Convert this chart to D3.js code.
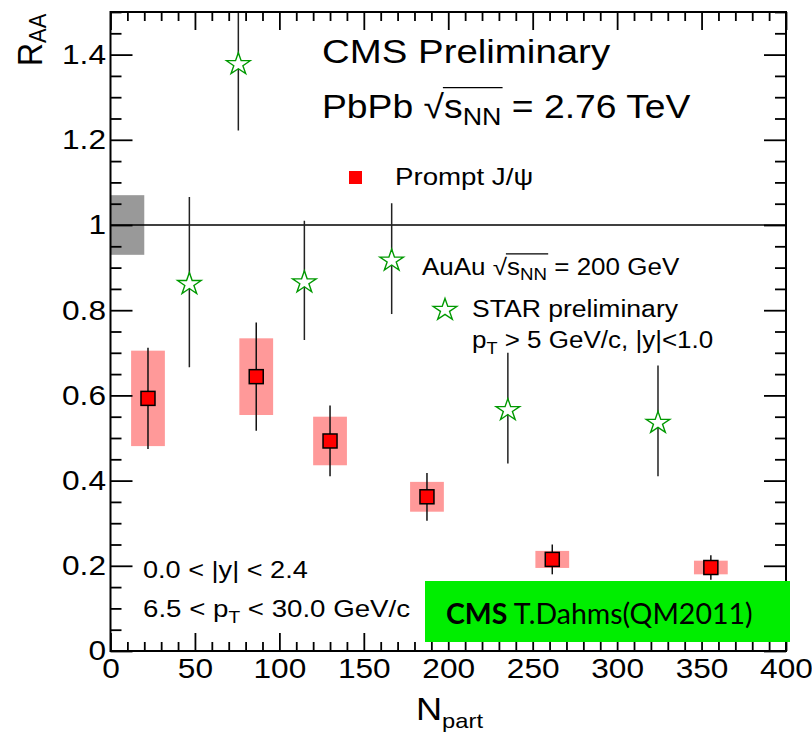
<!DOCTYPE html>
<html>
<head>
<meta charset="utf-8">
<script src="https://cdn.jsdelivr.net/npm/d3@7"></script>
<style>
  body { margin: 0; background: #fff; }
  svg text { font-family: "Liberation Sans", Arial, sans-serif; fill: #000; }
</style>
</head>
<body>
<div id="chart"></div>
<script>
// CMS prompt J/psi R_AA vs Npart
var cmsNpart = [22.2, 86.3, 130, 187.4, 261.6, 355.5];
var cmsRaa   = [0.593, 0.644, 0.493, 0.362, 0.215, 0.196];
var cmsStat  = [0.119, 0.127, 0.083, 0.056, 0.035, 0.029];
var cmsSyst  = [0.112, 0.090, 0.057, 0.035, 0.020, 0.016];

// STAR high-pT J/psi
var starNpart = [46.7, 75.7, 114.8, 166.5, 235.3, 324.2];
var starRaa   = [0.866, 1.382, 0.870, 0.921, 0.570, 0.540];
var starErr   = [0.200, 0.160, 0.140, 0.130, 0.130, 0.130];

// global uncertainty box at R_AA = 1
var globalBox = {x0: 0, x1: 20, lo: 0.93, hi: 1.07};

var xMajor = [0, 50, 100, 150, 200, 250, 300, 350, 400];
var xLabels = ["0", "50", "100", "150", "200", "250", "300", "350", "400"];
var yMajor = [0, 0.2, 0.4, 0.6, 0.8, 1.0, 1.2, 1.4];
var yLabels = ["0", "0.2", "0.4", "0.6", "0.8", "1", "1.2", "1.4"];

var W = 812, H = 736;
var SX = 1.13; // text looks a bit stretched sideways in the original
var margin = {top: 12, right: 26, bottom: 85, left: 110.5},
    width = W - margin.left - margin.right,
    height = H - margin.top - margin.bottom;

var x = d3.scaleLinear().domain([0, 400]).range([0, width]);
var y = d3.scaleLinear().domain([0, 1.5]).range([height, 0]);

var svg = d3.select("#chart").append("svg")
    .attr("width", W)
    .attr("height", H);

var g = svg.append("g")
    .attr("transform", "translate(" + margin.left + "," + margin.top + ")");

g.append("clipPath").attr("id", "frameClip")
  .append("rect").attr("width", width).attr("height", height);

var plot = g.append("g").attr("clip-path", "url(#frameClip)");

// global box
plot.append("rect")
    .attr("x", x(globalBox.x0))
    .attr("width", x(globalBox.x1) - x(globalBox.x0))
    .attr("y", y(globalBox.hi))
    .attr("height", y(globalBox.lo) - y(globalBox.hi))
    .attr("fill", "#999999");

// line at 1
plot.append("line")
    .attr("x1", 0).attr("x2", width)
    .attr("y1", y(1)).attr("y2", y(1))
    .attr("stroke", "#000").attr("stroke-width", 1.5);

var cms = cmsNpart.map(function(n, i){
    return {n: n, r: cmsRaa[i], stat: cmsStat[i], syst: cmsSyst[i]};
});
var star = starNpart.map(function(n, i){
    return {n: n, r: starRaa[i], err: starErr[i]};
});

// systematic boxes (+-10 in Npart)
plot.append("g").selectAll("rect")
    .data(cms).enter().append("rect")
    .attr("x", function(d){ return x(d.n - 10); })
    .attr("width", function(d){ return x(d.n + 10) - x(d.n - 10); })
    .attr("y", function(d){ return y(d.r + d.syst); })
    .attr("height", function(d){ return y(d.r - d.syst) - y(d.r + d.syst); })
    .attr("fill", "#ff9999");

// star error bars
plot.append("g").selectAll("line")
    .data(star).enter().append("line")
    .attr("x1", function(d){ return x(d.n); })
    .attr("x2", function(d){ return x(d.n); })
    .attr("y1", function(d){ return y(d.r + d.err); })
    .attr("y2", function(d){ return y(d.r - d.err); })
    .attr("stroke", "#222").attr("stroke-width", 1.5);

// cms error bars
plot.append("g").selectAll("line")
    .data(cms).enter().append("line")
    .attr("x1", function(d){ return x(d.n); })
    .attr("x2", function(d){ return x(d.n); })
    .attr("y1", function(d){ return y(d.r + d.stat); })
    .attr("y2", function(d){ return y(d.r - d.stat); })
    .attr("stroke", "#111").attr("stroke-width", 1.5);

// cms squares
var sq = 14;
plot.append("g").selectAll("rect")
    .data(cms).enter().append("rect")
    .attr("x", function(d){ return x(d.n) - sq / 2; })
    .attr("y", function(d){ return y(d.r) - sq / 2; })
    .attr("width", sq).attr("height", sq)
    .attr("fill", "#ff0000")
    .attr("stroke", "#000").attr("stroke-width", 1.5);

// open stars
var starPath = d3.symbol(d3.symbolStar, 150)();
plot.append("g").selectAll("path")
    .data(star).enter().append("path")
    .attr("d", starPath)
    .attr("transform", function(d){ return "translate(" + x(d.n) + "," + (y(d.r) + 2) + ") scale(1.08,1)"; })
    .attr("fill", "#fff")
    .attr("stroke", "#009900").attr("stroke-width", 1.3);

// ---- axes (ROOT style, ticks inside on all four sides)
var xMinor = d3.range(0, 401, 10).filter(function(v){ return v % 50 !== 0; });
var yMinor = d3.range(0, 31).map(function(i){ return i * 0.05; })
    .filter(function(v){ return Math.abs(v / 0.2 - Math.round(v / 0.2)) > 1e-6; });

function styleAxis(sel){
    sel.select(".domain").remove();
    sel.selectAll(".tick line").attr("stroke", "#000").attr("stroke-width", 1.8);
    sel.selectAll(".tick text").style("font-size", "28px")
        .style("font-family", "'Liberation Sans', Arial, sans-serif").attr("fill", "#000")
        .attr("transform", "scale(" + SX + ",1)");
}

// bottom
g.append("g").attr("transform", "translate(0," + height + ")")
    .call(d3.axisBottom(x).tickValues(xMajor).tickSize(-18).tickPadding(7)
        .tickFormat(function(d, i){ return xLabels[i]; }))
    .call(styleAxis);
g.append("g").attr("transform", "translate(0," + height + ")")
    .call(d3.axisBottom(x).tickValues(xMinor).tickSize(-9).tickFormat(""))
    .call(styleAxis);
// top
g.append("g")
    .call(d3.axisTop(x).tickValues(xMajor).tickSize(-18).tickFormat(""))
    .call(styleAxis);
g.append("g")
    .call(d3.axisTop(x).tickValues(xMinor).tickSize(-9).tickFormat(""))
    .call(styleAxis);
// left
g.append("g")
    .call(d3.axisLeft(y).tickValues(yMajor).tickSize(-22).tickPadding(4)
        .tickFormat(function(d, i){ return yLabels[i]; }))
    .call(styleAxis);
g.append("g")
    .call(d3.axisLeft(y).tickValues(yMinor).tickSize(-11).tickFormat(""))
    .call(styleAxis);
// right
g.append("g").attr("transform", "translate(" + width + ",0)")
    .call(d3.axisRight(y).tickValues(yMajor).tickSize(-22).tickFormat(""))
    .call(styleAxis);
g.append("g").attr("transform", "translate(" + width + ",0)")
    .call(d3.axisRight(y).tickValues(yMinor).tickSize(-11).tickFormat(""))
    .call(styleAxis);

// frame
g.append("rect")
    .attr("width", width).attr("height", height)
    .attr("fill", "none").attr("stroke", "#000").attr("stroke-width", 2);

// ---- text helper: stretched label anchored at (xp, yp)
function label(xp, yp, fs){
    var grp = svg.append("g").attr("transform", "translate(" + xp + "," + yp + ") scale(" + SX + ",1)");
    var t = grp.append("text").style("font-size", fs + "px");
    t.grp = grp;
    return t;
}

// ---- axis titles
var yt = svg.append("text")
    .attr("transform", "translate(42,66) rotate(-90) scale(1,1.08)")
    .style("font-size", "32px");
yt.append("tspan").text("R");
yt.append("tspan").attr("dy", 4).style("font-size", "22px").text("AA");

var xt = label(416, 720, 32);
xt.append("tspan").text("N");
xt.append("tspan").attr("dy", 8).style("font-size", "21px").text("part");

// ---- labels
label(322, 63, 34).text("CMS Preliminary");

function sqrtText(xp, yp, fs, before, after){
    var t = label(xp, yp, fs);
    t.append("tspan").text(before + "\u221A");
    t.append("tspan").text("s");
    t.append("tspan").attr("dy", fs * 0.22).style("font-size", (fs * 0.72) + "px").text("NN");
    t.append("tspan").attr("dy", -fs * 0.22).text(after);
    var i0 = before.length + 1, i1 = before.length + 3;
    var a = t.node().getStartPositionOfChar(i0).x;
    var b = t.node().getEndPositionOfChar(i1).x;
    t.grp.append("line").attr("x1", a - 1).attr("x2", b + 1)
        .attr("y1", -fs * 0.92).attr("y2", -fs * 0.92)
        .attr("stroke", "#000").attr("stroke-width", 1.2);
}
sqrtText(322, 118, 33, "PbPb ", " = 2.76 TeV");

// legend CMS
svg.append("rect").attr("x", 349).attr("y", 171).attr("width", 13).attr("height", 13)
    .attr("fill", "#ff0000");
label(395, 185, 24.5).text("Prompt J/\u03C8");

sqrtText(422, 275, 23, "AuAu ", " = 200 GeV");

svg.append("path").attr("d", starPath)
    .attr("transform", "translate(445,310) scale(1.08,1)")
    .attr("fill", "#fff").attr("stroke", "#009900").attr("stroke-width", 1.3);
label(472, 317, 23.5).text("STAR preliminary");

var pt2 = label(472, 348, 23);
pt2.append("tspan").text("p");
pt2.append("tspan").attr("dy", 6).style("font-size", "16px").text("T");
pt2.append("tspan").attr("dy", -6).text(" > 5 GeV/c, |y|<1.0");

label(143, 578, 24).text("0.0 < |y| < 2.4");
var pt1 = label(143, 617, 24.5);
pt1.append("tspan").text("6.5 < p");
pt1.append("tspan").attr("dy", 6).style("font-size", "17px").text("T");
pt1.append("tspan").attr("dy", -6).text(" < 30.0 GeV/c");

// green label box
svg.append("rect").attr("x", 425).attr("y", 581).attr("width", 365).attr("height", 61)
    .attr("fill", "#00ee00");
var gl = svg.append("text").attr("x", 446).attr("y", 624)
    .style("font-size", "28.5px").style("font-family", "Lato, 'DejaVu Sans', sans-serif");
gl.append("tspan").style("font-weight", "bold").text("CMS");
gl.append("tspan").text(" T.Dahms(QM2011)");
</script>
</body>
</html>
